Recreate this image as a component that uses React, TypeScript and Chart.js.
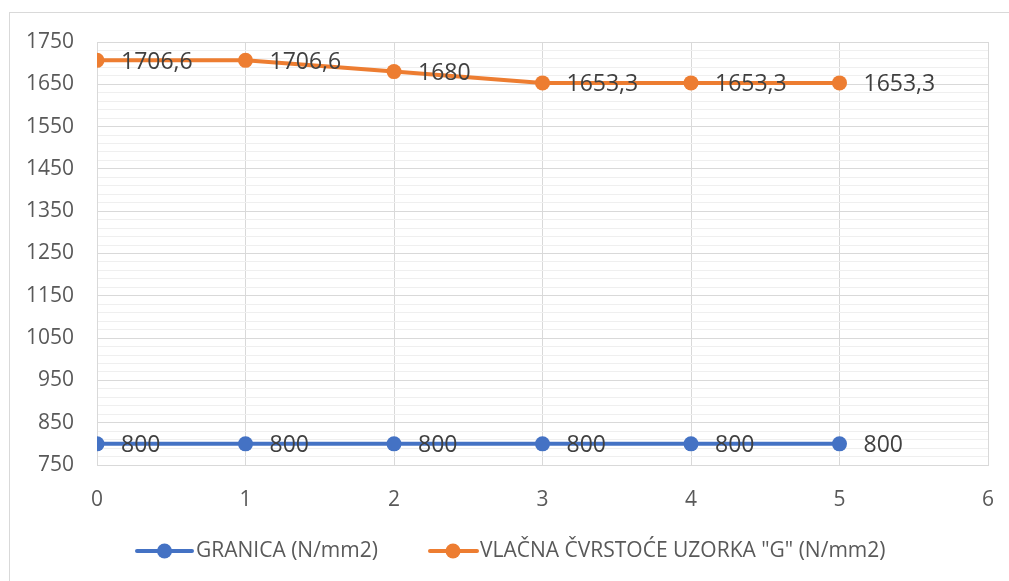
import React, { useEffect, useRef } from "react";
import { Chart, registerables } from "chart.js";

Chart.register(...registerables);

const xValues = [0, 1, 2, 3, 4, 5];
const granica = [800, 800, 800, 800, 800, 800];
const vlacna = [1706.6, 1706.6, 1680, 1653.3, 1653.3, 1653.3];
const seriesNames = ["GRANICA (N/mm2)", 'VLAČNA ČVRSTOĆE UZORKA "G" (N/mm2)'];
const seriesColors = ["#4472C4", "#ED7D31"];
const yMin = 750;
const yMax = 1750;
const yMajorStep = 100;
const yMinorStep = 20;
const xMin = 0;
const xMax = 6;
const xStep = 1;

const FONT = "'Open Sans', 'Noto Sans', sans-serif";

const fmt = (v: number) => String(v).replace(".", ",");

const frameAndLabels = {
  id: "frameAndLabels",
  beforeDraw(chart: any) {
    const ctx = chart.ctx;
    ctx.save();
    ctx.strokeStyle = "#d9d9d9";
    ctx.lineWidth = 1;
    ctx.strokeRect(9.5, 12.5, 1200, 800);
    ctx.restore();
  },
  afterDatasetsDraw(chart: any) {
    const ctx = chart.ctx;
    ctx.save();
    ctx.font = `23px ${FONT}`;
    ctx.fillStyle = "#404040";
    ctx.textAlign = "left";
    ctx.textBaseline = "middle";
    chart.data.datasets.forEach((ds: any, i: number) => {
      const meta = chart.getDatasetMeta(i);
      meta.data.forEach((pt: any, j: number) => {
        const v = ds.data[j].y;
        ctx.fillText(fmt(v), pt.x + 24, pt.y + 2);
      });
    });
    ctx.restore();
  },
  afterDraw(chart: any) {
    const ctx = chart.ctx;
    const items = [
      { x0: 137, x1: 192, cx: 164.5, tx: 196 },
      { x0: 430, x1: 477, cx: 453, tx: 480 },
    ];
    const y = 551;
    ctx.save();
    items.forEach((it, i) => {
      ctx.strokeStyle = seriesColors[i];
      ctx.lineWidth = 4;
      ctx.lineCap = "round";
      ctx.beginPath();
      ctx.moveTo(it.x0, y);
      ctx.lineTo(it.x1, y);
      ctx.stroke();
      ctx.fillStyle = seriesColors[i];
      ctx.beginPath();
      ctx.arc(it.cx, y, 7.5, 0, Math.PI * 2);
      ctx.fill();
      ctx.fillStyle = "#595959";
      ctx.font = `21px ${FONT}`;
      ctx.textAlign = "left";
      ctx.textBaseline = "middle";
      ctx.fillText(seriesNames[i], it.tx, y);
    });
    ctx.restore();
  },
};

export default function App() {
  const ref = useRef<HTMLCanvasElement>(null);

  useEffect(() => {
    if (!ref.current) return;
    const mk = (vals: number[]) => xValues.map((x, i) => ({ x, y: vals[i] }));
    const chart = new Chart(ref.current, {
      type: "line",
      data: {
        datasets: [
          {
            label: seriesNames[0],
            data: mk(granica),
            borderColor: seriesColors[0],
            backgroundColor: seriesColors[0],
            borderWidth: 4,
            pointRadius: 7.5,
            pointBorderWidth: 0,
            pointBackgroundColor: seriesColors[0],
            tension: 0,
          },
          {
            label: seriesNames[1],
            data: mk(vlacna),
            borderColor: seriesColors[1],
            backgroundColor: seriesColors[1],
            borderWidth: 4,
            pointRadius: 7.5,
            pointBorderWidth: 0,
            pointBackgroundColor: seriesColors[1],
            tension: 0,
          },
        ],
      },
      options: {
        responsive: false,
        animation: false,
        devicePixelRatio: 1,
        layout: { padding: { top: 42, right: 21, left: 0, bottom: 0 } },
        plugins: {
          legend: { display: false },
          tooltip: { enabled: false },
        },
        scales: {
          x: {
            type: "linear",
            min: xMin,
            max: xMax,
            afterFit: (s: any) => {
              s.height = 116;
              s.paddingLeft = 0;
              s.paddingRight = 0;
            },
            ticks: {
              stepSize: xStep,
              padding: 22,
              color: "#595959",
              font: { family: FONT, size: 21 },
            },
            grid: { color: "#d9d9d9", drawTicks: false },
            border: { color: "#d9d9d9" },
          },
          y: {
            type: "linear",
            min: yMin,
            max: yMax,
            afterFit: (s: any) => {
              s.width = 97;
              s.paddingTop = 0;
              s.paddingBottom = 0;
            },
            ticks: {
              stepSize: yMinorStep,
              autoSkip: false,
              padding: 23,
              color: "#595959",
              font: { family: FONT, size: 21 },
              callback: (v: any) => ((Number(v) - yMin) % yMajorStep === 0 ? String(v) : ""),
            },
            grid: {
              drawTicks: false,
              color: (c: any) =>
                c.tick && (c.tick.value - yMin) % yMajorStep === 0 ? "#d9d9d9" : "#efefef",
            },
            border: { color: "#d9d9d9" },
          },
        },
      },
      plugins: [frameAndLabels],
    });
    return () => chart.destroy();
  }, []);

  return (
    <div style={{ position: "absolute", left: 0, top: 0, width: 1009, height: 581, overflow: "hidden", background: "#fff" }}>
      <canvas ref={ref} width={1009} height={581} style={{ display: "block" }} />
    </div>
  );
}
